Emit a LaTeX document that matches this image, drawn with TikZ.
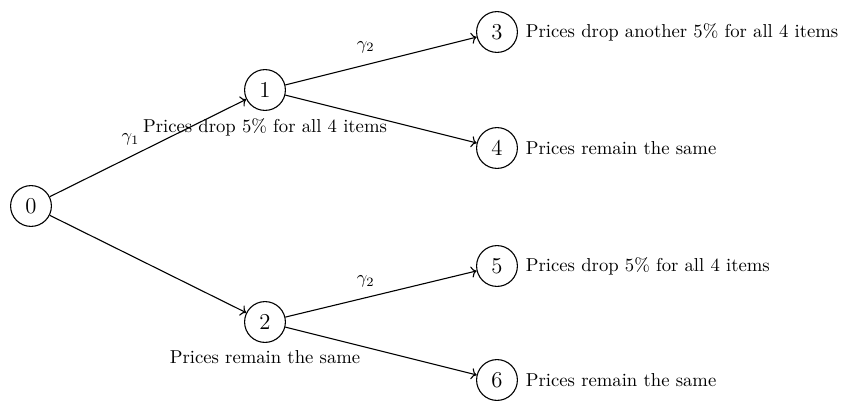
\documentclass[tikz,border=0pt]{standalone}
\usetikzlibrary{arrows.meta}
\begin{document}
\begin{tikzpicture}[x=0.0192cm,y=-0.0192cm,
  every node/.style={font=\fontsize{10.2}{12.3}\selectfont},
  state/.style={circle,draw,semithick,minimum size=22.3pt,inner sep=0pt,font=\fontsize{12.4}{14}\selectfont},
  edge/.style={->,semithick}]
\useasboundingbox (0,0) rectangle (843,400);
\node[state] (n0) at (31,206) {0};
\node[state] (n1) at (265,90) {1};
\node[state] (n2) at (265,322) {2};
\node[state] (n3) at (497,32) {3};
\node[state] (n4) at (497,148) {4};
\node[state] (n5) at (497,266) {5};
\node[state] (n6) at (497,380) {6};

\draw[edge] (n0) -- node[pos=0.48,above left=-1pt] {$\gamma_1$} (n1);
\draw[edge] (n0) -- (n2);
\draw[edge] (n1) -- node[pos=0.42,above=3pt] {$\gamma_2$} (n3);
\draw[edge] (n1) -- (n4);
\draw[edge] (n2) -- node[pos=0.42,above=2pt] {$\gamma_2$} (n5);
\draw[edge] (n2) -- (n6);

\node (t1) at (265,127) {Prices drop 5\% for all 4 items};
\node (t2) at (265,357) {Prices remain the same};
\node[anchor=west] (t3) at ([xshift=0.8pt]n3.east) {Prices drop another 5\% for all 4 items};
\node[anchor=west] (t4) at ([xshift=0.8pt]n4.east) {Prices remain the same};
\node[anchor=west] (t5) at ([xshift=0.8pt]n5.east) {Prices drop 5\% for all 4 items};
\node[anchor=west] (t6) at ([xshift=0.8pt]n6.east) {Prices remain the same};
\end{tikzpicture}
\end{document}
